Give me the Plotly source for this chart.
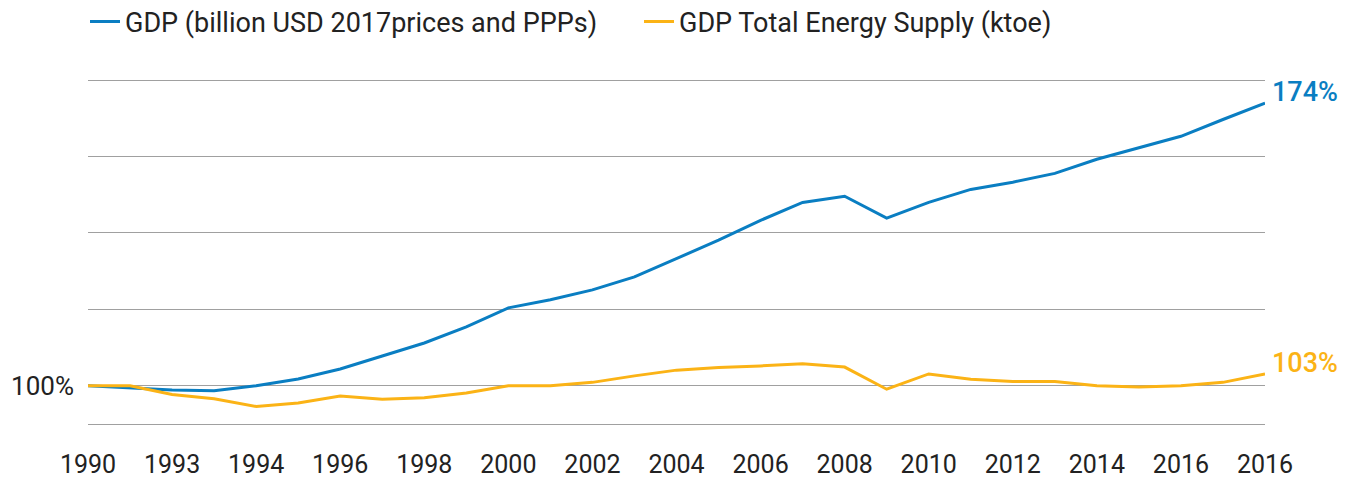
import plotly.graph_objects as go

# 29 points along the category axis, labelled on every other one
tick_labels = ["1990", "1993", "1994", "1996", "1998", "2000", "2002", "2004",
               "2006", "2008", "2010", "2012", "2014", "2016", "2016"]

gdp = [100, 99.5, 98.9, 98.7, 100, 101.8, 104.4, 107.8, 111.2, 115.4,
       120.4, 122.5, 125.1, 128.5, 133.4, 138.1, 143.3, 148.0, 149.6, 143.9,
       148.0, 151.4, 153.3, 155.6, 159.3, 162.4, 165.3, 169.7, 174.0]

energy = [100, 100, 97.7, 96.6, 94.6, 95.5, 97.3, 96.5, 96.9, 98.1,
          100, 100, 100.9, 102.6, 104.1, 104.8, 105.2, 105.8, 104.9, 99.1,
          103.1, 101.7, 101.1, 101.1, 100.0, 99.7, 100.0, 100.9, 103.1]

names = ["GDP (billion USD 2017prices and PPPs)", "GDP Total Energy Supply (ktoe)"]
colors = ["#0a7ec2", "#fbb316"]

x = list(range(len(gdp)))

# page body has an 8px margin, so the figure is a bit smaller than the window
W, H = 1345, 470

fig = go.Figure()
for name, vals, col in zip(names, [gdp, energy], colors):
    fig.add_trace(go.Scatter(x=x, y=vals, name=name, mode="lines",
                             line=dict(color=col, width=3)))
    fig.add_annotation(x=x[-1], y=vals[-1], text=f"{vals[-1]:.0f}%",
                       showarrow=False, xanchor="left", xshift=5, yshift=11,
                       font=dict(size=27, color=col, family="Roboto", weight=500))

fig.update_layout(
    width=W, height=H,
    margin=dict(l=80, r=88, t=71, b=54),
    plot_bgcolor="white", paper_bgcolor="white",
    font=dict(family="Roboto", color="#222222"),
    showlegend=True,
    legend=dict(orientation="h", xref="container", yref="container",
                x=77 / W, xanchor="left", y=1 - 14 / H, yanchor="middle",
                font=dict(size=27, color="#222222"),
                entrywidth=509, entrywidthmode="pixels"),
)
fig.update_xaxes(range=[0, len(gdp) - 1], tickvals=x[::2], ticktext=tick_labels,
                 showgrid=False, zeroline=False, showline=True, linecolor="#a0a0a0",
                 linewidth=1, ticks="", ticklabelstandoff=18, automargin=False,
                 tickfont=dict(size=25, color="#222222"))
fig.update_yaxes(range=[90, 180.3], tickvals=[100, 120, 140, 160, 180],
                 ticktext=["100%", "", "", "", ""], showgrid=True,
                 gridcolor="#a0a0a0", gridwidth=1, zeroline=False, ticks="",
                 ticklabelstandoff=13, automargin=False,
                 tickfont=dict(size=26, color="#222222"))

fig.write_html("out.html")
